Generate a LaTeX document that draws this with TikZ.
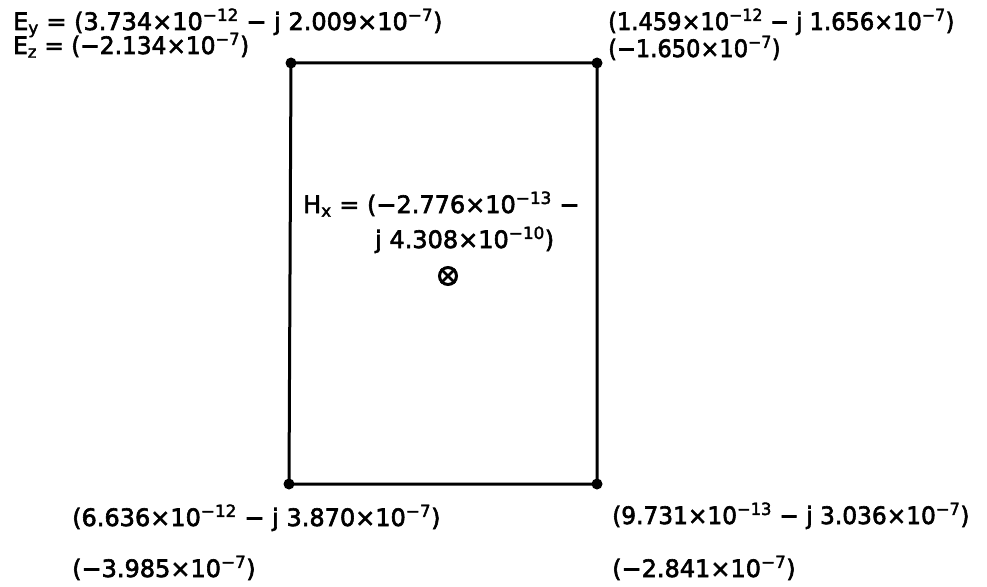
\documentclass[tikz,border=0pt]{standalone}
\usepackage{fontspec}
\setmainfont{DejaVu Sans}[FakeBold=2.5]
\begin{document}
\begin{tikzpicture}[x=1pt,y=-1pt,
  lbl/.style={anchor=base west, inner sep=0pt, font=\fontsize{24}{28}\selectfont},
  cornerdot/.style={circle, fill, inner sep=0pt, minimum size=11pt},
  edge/.style={line width=3pt}]
\useasboundingbox (0,0) rectangle (987,586);
\node[cornerdot] (tl) at (291,63) {};
\node[cornerdot] (tr) at (597,63) {};
\node[cornerdot] (bl) at (289,484) {};
\node[cornerdot] (br) at (597,484) {};
\draw[edge] (tl.center) -- (tr.center) -- (br.center) -- (bl.center) -- cycle;
\node[lbl] (ey) at (13,30) {E\textsubscript{y} = (3.734×10\textsuperscript{−12} − j 2.009×10\textsuperscript{−7})};
\node[lbl] (ez) at (13,54) {\scalebox{0.97}[1]{E\textsubscript{z} = (−2.134×10\textsuperscript{−7})}};
\node[lbl] (tr1) at (608,30) {\scalebox{0.94}[1]{(1.459×10\textsuperscript{−12} − j 1.656×10\textsuperscript{−7})}};
\node[lbl] (tr2) at (608,57) {\scalebox{0.94}[1]{(−1.650×10\textsuperscript{−7})}};
\node[lbl] (hx1) at (303,213) {H\textsubscript{x} = (−2.776×10\textsuperscript{−13} −};
\node[lbl] (hx2) at (375,248) {j 4.308×10\textsuperscript{−10})};
\node[circle, draw, line width=3pt, minimum size=17pt, inner sep=0pt] (hdir) at (448,276) {};
\draw[line width=2.5pt] (hdir.45) -- (hdir.225) (hdir.135) -- (hdir.315);
\node[lbl] (bl1) at (72,526) {(6.636×10\textsuperscript{−12} − j 3.870×10\textsuperscript{−7})};
\node[lbl] (bl2) at (72,577) {(−3.985×10\textsuperscript{−7})};
\node[lbl] (br1) at (612,524) {\scalebox{0.97}[1]{(9.731×10\textsuperscript{−13} − j 3.036×10\textsuperscript{−7})}};
\node[lbl] (br2) at (612,577) {(−2.841×10\textsuperscript{−7})};
\end{tikzpicture}
\end{document}
